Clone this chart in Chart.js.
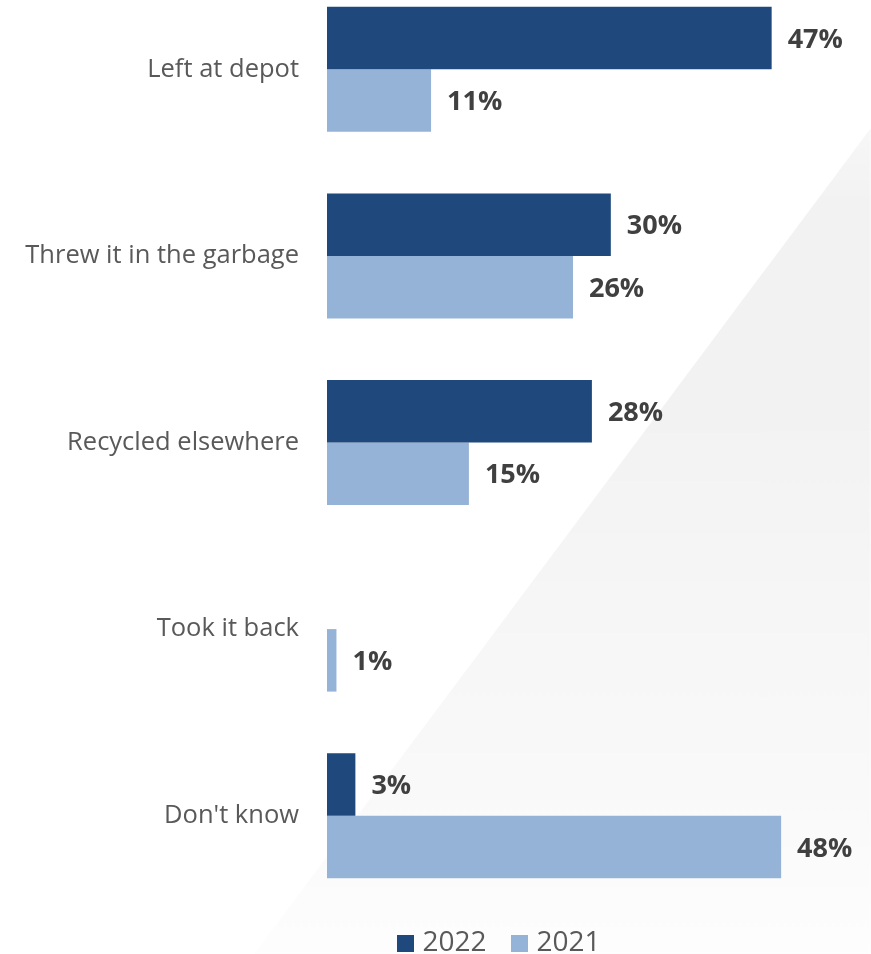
<!DOCTYPE html>
<html>
<head>
<meta charset="utf-8">
<script src="https://cdn.jsdelivr.net/npm/chart.js@4/dist/chart.umd.min.js"></script>
<style>
  html, body { margin: 0; padding: 0; background: #fff; overflow: hidden; }
  #page { position: relative; width: 871px; height: 954px; overflow: hidden; background: #fff; }
  #shade {
    position: absolute; left: 0; top: 0; width: 871px; height: 954px;
    clip-path: polygon(871px 128px, 871px 960px, 250px 960px);
    background: linear-gradient(180deg, #ffffff 0px, #f2f2f2 200px, #f2f2f2 420px, #f6f6f6 620px, #f9f9f9 800px, #fdfdfd 954px);
    filter: blur(1.5px);
  }
  #wrap { position: absolute; left: 0; top: -24px; width: 871px; height: 1001px; }
</style>
</head>
<body>
<div id="page">
  <div id="shade"></div>
  <div id="wrap"><canvas id="chart"></canvas></div>
</div>
<script>
// What people did with the item
const categories = ["Left at depot", "Threw it in the garbage", "Recycled elsewhere", "Took it back", "Don't know"];
const seriesNames = ["2022", "2021"];
const values2022 = [47, 30, 28, null, 3];
const values2021 = [11, 26, 15, 1, 48];

const COLOR_2022 = "#1f497d";
const COLOR_2021 = "#95b3d7";

// Solid 17px squares used as legend markers
function squareMarker(color) {
  const c = document.createElement("canvas");
  c.width = 17; c.height = 17;
  const g = c.getContext("2d");
  g.fillStyle = color;
  g.fillRect(0, 0, 17, 17);
  return c;
}
const markers = [squareMarker(COLOR_2022), squareMarker(COLOR_2021)];

// Bold percentage text to the right of every bar
const valueLabels = {
  id: "valueLabels",
  afterDatasetsDraw(chart) {
    const ctx = chart.ctx;
    ctx.save();
    ctx.font = "bold 27px 'Open Sans'";
    ctx.fillStyle = "#404040";
    ctx.textAlign = "left";
    ctx.textBaseline = "middle";
    chart.data.datasets.forEach((ds, di) => {
      const meta = chart.getDatasetMeta(di);
      meta.data.forEach((bar, i) => {
        const v = ds.data[i];
        if (v === null || v === undefined) return;
        ctx.fillText(v + "%", bar.x + 16, bar.y + 2);
      });
    });
    ctx.restore();
  }
};

// Centre the legend under the bars rather than the whole canvas
const legendPlacement = {
  id: "legendPlacement",
  afterLayout(chart) {
    const lg = chart.legend;
    if (!lg) return;
    lg.left += 66; lg.right += 66;
    lg.top -= 10; lg.bottom -= 10;
  }
};

new Chart(document.getElementById("chart"), {
  type: "bar",
  data: {
    labels: categories,
    datasets: [
      { label: seriesNames[0], data: values2022, backgroundColor: COLOR_2022 },
      { label: seriesNames[1], data: values2021, backgroundColor: COLOR_2021 }
    ]
  },
  options: {
    indexAxis: "y",
    responsive: true,
    maintainAspectRatio: false,
    animation: false,
    layout: { padding: 0 },
    datasets: { bar: { barPercentage: 1, categoryPercentage: 0.67 } },
    scales: {
      x: { display: false, min: 0, max: 57.5 },
      y: {
        grid: { display: false },
        border: { display: false },
        ticks: { color: "#595959", font: { family: "'Open Sans'", size: 25.5 }, padding: 20 },
        afterFit(scale) {
          scale.width = 327;
          scale.paddingTop = 0;
          scale.paddingBottom = 0;
        }
      }
    },
    plugins: {
      tooltip: { enabled: false },
      legend: {
        position: "bottom",
        labels: {
          color: "#595959",
          font: { family: "'Open Sans'", size: 28 },
          usePointStyle: true,
          pointStyleWidth: 6,
          boxHeight: 17,
          padding: 30,
          generateLabels(chart) {
            const items = Chart.defaults.plugins.legend.labels.generateLabels(chart);
            items.forEach(it => { it.pointStyle = markers[it.datasetIndex]; });
            return items;
          }
        }
      }
    }
  },
  plugins: [valueLabels, legendPlacement]
});
</script>
</body>
</html>
